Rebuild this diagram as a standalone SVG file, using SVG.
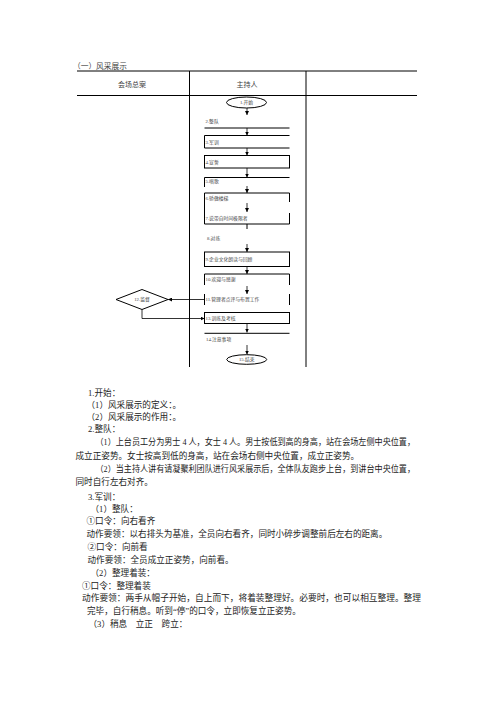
<svg xmlns="http://www.w3.org/2000/svg" width="496" height="702" viewBox="0 0 496 702">
<defs>
<marker id="ah" viewBox="0 0 10 10" refX="10" refY="5" markerWidth="4" markerHeight="4" markerUnits="userSpaceOnUse" orient="auto">
<path d="M0,0 L10,5 L0,10 Z" fill="#000"/>
</marker>
<style>
.ln{stroke:#000;stroke-width:1;fill:none}
.sh{stroke:#000;stroke-width:1;fill:#fff}
.op{stroke:#000;stroke-width:1;fill:none}
.ar{stroke:#000;stroke-width:0.8;fill:none;marker-end:url(#ah)}
.ft{font-family:"Liberation Serif","Noto Sans CJK SC",serif;font-size:4.8px;fill:#444}
.fc{text-anchor:middle}
.hd{font-family:"Liberation Serif","Noto Sans CJK SC",serif;font-size:7px;fill:#444;text-anchor:middle}
.tt{font-family:"Liberation Serif","Noto Sans CJK SC",serif;font-size:7.7px;fill:#444}
.bd{font-family:"Liberation Serif","Noto Sans CJK SC",serif;font-size:8.6px;fill:#222}
</style>
</defs>
<rect width="496" height="702" fill="#fff"/>

<g id="table">
<text class="tt" x="73" y="69.3">（一）风采展示</text>
<line class="ln" x1="77" y1="71" x2="417" y2="71"/>
<line class="ln" x1="77" y1="95.5" x2="417" y2="95.5"/>
<line class="ln" x1="189.5" y1="71" x2="189.5" y2="367"/>
<line class="ln" x1="306" y1="71" x2="306" y2="367"/>
<text class="hd" x="132" y="86.7">会场总案</text>
<text class="hd" x="247" y="86.7">主持人</text>
</g>

<g id="connectors">
<line class="ar" x1="247" y1="108" x2="247" y2="115"/>
<line class="ar" x1="247" y1="128" x2="247" y2="135.5"/>
<line class="ar" x1="247" y1="148" x2="247" y2="155.5"/>
<line class="ar" x1="247" y1="168" x2="247" y2="177.5"/>
<line class="ar" x1="247" y1="186" x2="247" y2="193"/>
<line class="ar" x1="247" y1="203" x2="247" y2="212"/>
<line class="ln" x1="247" y1="224" x2="247" y2="229"/>
<line class="ar" x1="247" y1="244" x2="247" y2="252"/>
<line class="ar" x1="247" y1="266.5" x2="247" y2="274"/>
<line class="ar" x1="247" y1="286" x2="247" y2="294"/>
<line class="ar" x1="204.5" y1="299.5" x2="168" y2="299.5"/>
<path class="ar" d="M142,309.5 V318.5 H204.5"/>
<line class="ar" x1="247" y1="323.5" x2="247" y2="332.5"/>
<line class="ar" x1="247" y1="345" x2="247" y2="354.5"/>
</g>

<g id="n1">
<ellipse class="sh" cx="246.5" cy="102.5" rx="20" ry="5.5"/>
<text class="ft fc" x="246.5" y="104.2">1.开始</text>
</g>
<g id="n2">
<line class="ln" x1="204.5" y1="128" x2="289.5" y2="128"/>
<text class="ft" x="205.5" y="123">2.整队</text>
</g>
<g id="n3">
<path class="op" d="M289.5,135.5 H204.5 V148 H289.5"/>
<text class="ft" x="205.5" y="143.5">3.军训</text>
</g>
<g id="n4">
<rect class="op" x="204.5" y="155.5" width="85" height="12.5"/>
<text class="ft" x="205.5" y="163.5">4.宣誓</text>
</g>
<g id="n5">
<path class="op" d="M204.5,187 V177.5 H289.5"/>
<text class="ft" x="205.5" y="183">5.唱歌</text>
</g>
<g id="n6">
<path class="op" d="M289.5,202 V193 H204.5 V213"/>
<text class="ft" x="205.5" y="200">6.骄傲楼梯</text>
</g>
<g id="n7">
<path class="op" d="M204.5,213 V224 H289.5 V213"/>
<text class="ft" x="205.5" y="220">7.说带自时间极限者</text>
</g>
<g id="n8">
<text class="ft" x="207" y="240">8.对练</text>
</g>
<g id="n9">
<rect class="op" x="204.5" y="252" width="85" height="14.5"/>
<text class="ft" x="205.5" y="261">9.企业文化朗读与回顾</text>
</g>
<g id="n10">
<path class="op" d="M204.5,285 V274 H289.5 V285"/>
<text class="ft" x="205.5" y="281">10.欢迎与感谢</text>
</g>
<g id="n11">
<line class="ln" x1="204.5" y1="294" x2="204.5" y2="305"/>
<line class="ln" x1="289.5" y1="294" x2="289.5" y2="305"/>
<text class="ft" x="205.5" y="301.3">11.管理者点评与布置工作</text>
</g>
<g id="n12">
<polygon class="sh" points="116,299.5 142,289.5 168,299.5 142,309.5"/>
<text class="ft fc" x="142" y="301.3">12.监督</text>
</g>
<g id="n13">
<rect class="op" x="204.5" y="312.5" width="85" height="11"/>
<text class="ft" x="205.5" y="320">13.训练及考核</text>
</g>
<g id="n14">
<line class="ln" x1="204.5" y1="333.3" x2="289.5" y2="333.3"/>
<text class="ft" x="206" y="341">14.注意事项</text>
</g>
<g id="n15">
<ellipse class="sh" cx="246.7" cy="359.5" rx="20" ry="4.8"/>
<text class="ft fc" x="246.7" y="361.2">15.结束</text>
</g>

<g id="body">
<text class="bd" x="88" y="395.6">1.开始：</text>
<text class="bd" x="86.5" y="407.6">（1）风采展示的定义：。</text>
<text class="bd" x="86.5" y="420">（2）风采展示的作用：。</text>
<text class="bd" x="88" y="432.3">2.整队：</text>
<text class="bd" x="95.5" y="444.8" textLength="319.5" lengthAdjust="spacingAndGlyphs">（1）上台员工分为男士 4 人，女士 4 人。男士按低到高的身高，站在会场左侧中央位置，</text>
<text class="bd" x="75.5" y="459.3">成立正姿势。女士按高到低的身高，站在会场右侧中央位置，成立正姿势。</text>
<text class="bd" x="95.5" y="472.3" textLength="319.5" lengthAdjust="spacingAndGlyphs">（2）当主持人讲有请凝聚利团队进行风采展示后，全体队友跑步上台，到讲台中央位置，</text>
<text class="bd" x="75.5" y="485">同时自行左右对齐。</text>
<text class="bd" x="88" y="499.8">3.军训：</text>
<text class="bd" x="90.5" y="511.8">（1）整队：</text>
<text class="bd" x="86.5" y="524.3">①口令：向右看齐</text>
<text class="bd" x="86.5" y="536.8">动作要领：以右排头为基准，全员向右看齐，同时小碎步调整前后左右的距离。</text>
<text class="bd" x="87.5" y="550">②口令：向前看</text>
<text class="bd" x="87.5" y="563.3">动作要领：全员成立正姿势，向前看。</text>
<text class="bd" x="90.5" y="576.3">（2）整理着装：</text>
<text class="bd" x="82" y="589">①口令：整理着装</text>
<text class="bd" x="82" y="601.3" textLength="339" lengthAdjust="spacingAndGlyphs">动作要领：两手从帽子开始，自上而下，将着装整理好。必要时，也可以相互整理。整理</text>
<text class="bd" x="87" y="614.3">完毕，自行稍息。听到“停”的口令，立即恢复立正姿势。</text>
<text class="bd" x="88.5" y="626.6">（3）稍息　立正　跨立：</text>
</g>
</svg>
